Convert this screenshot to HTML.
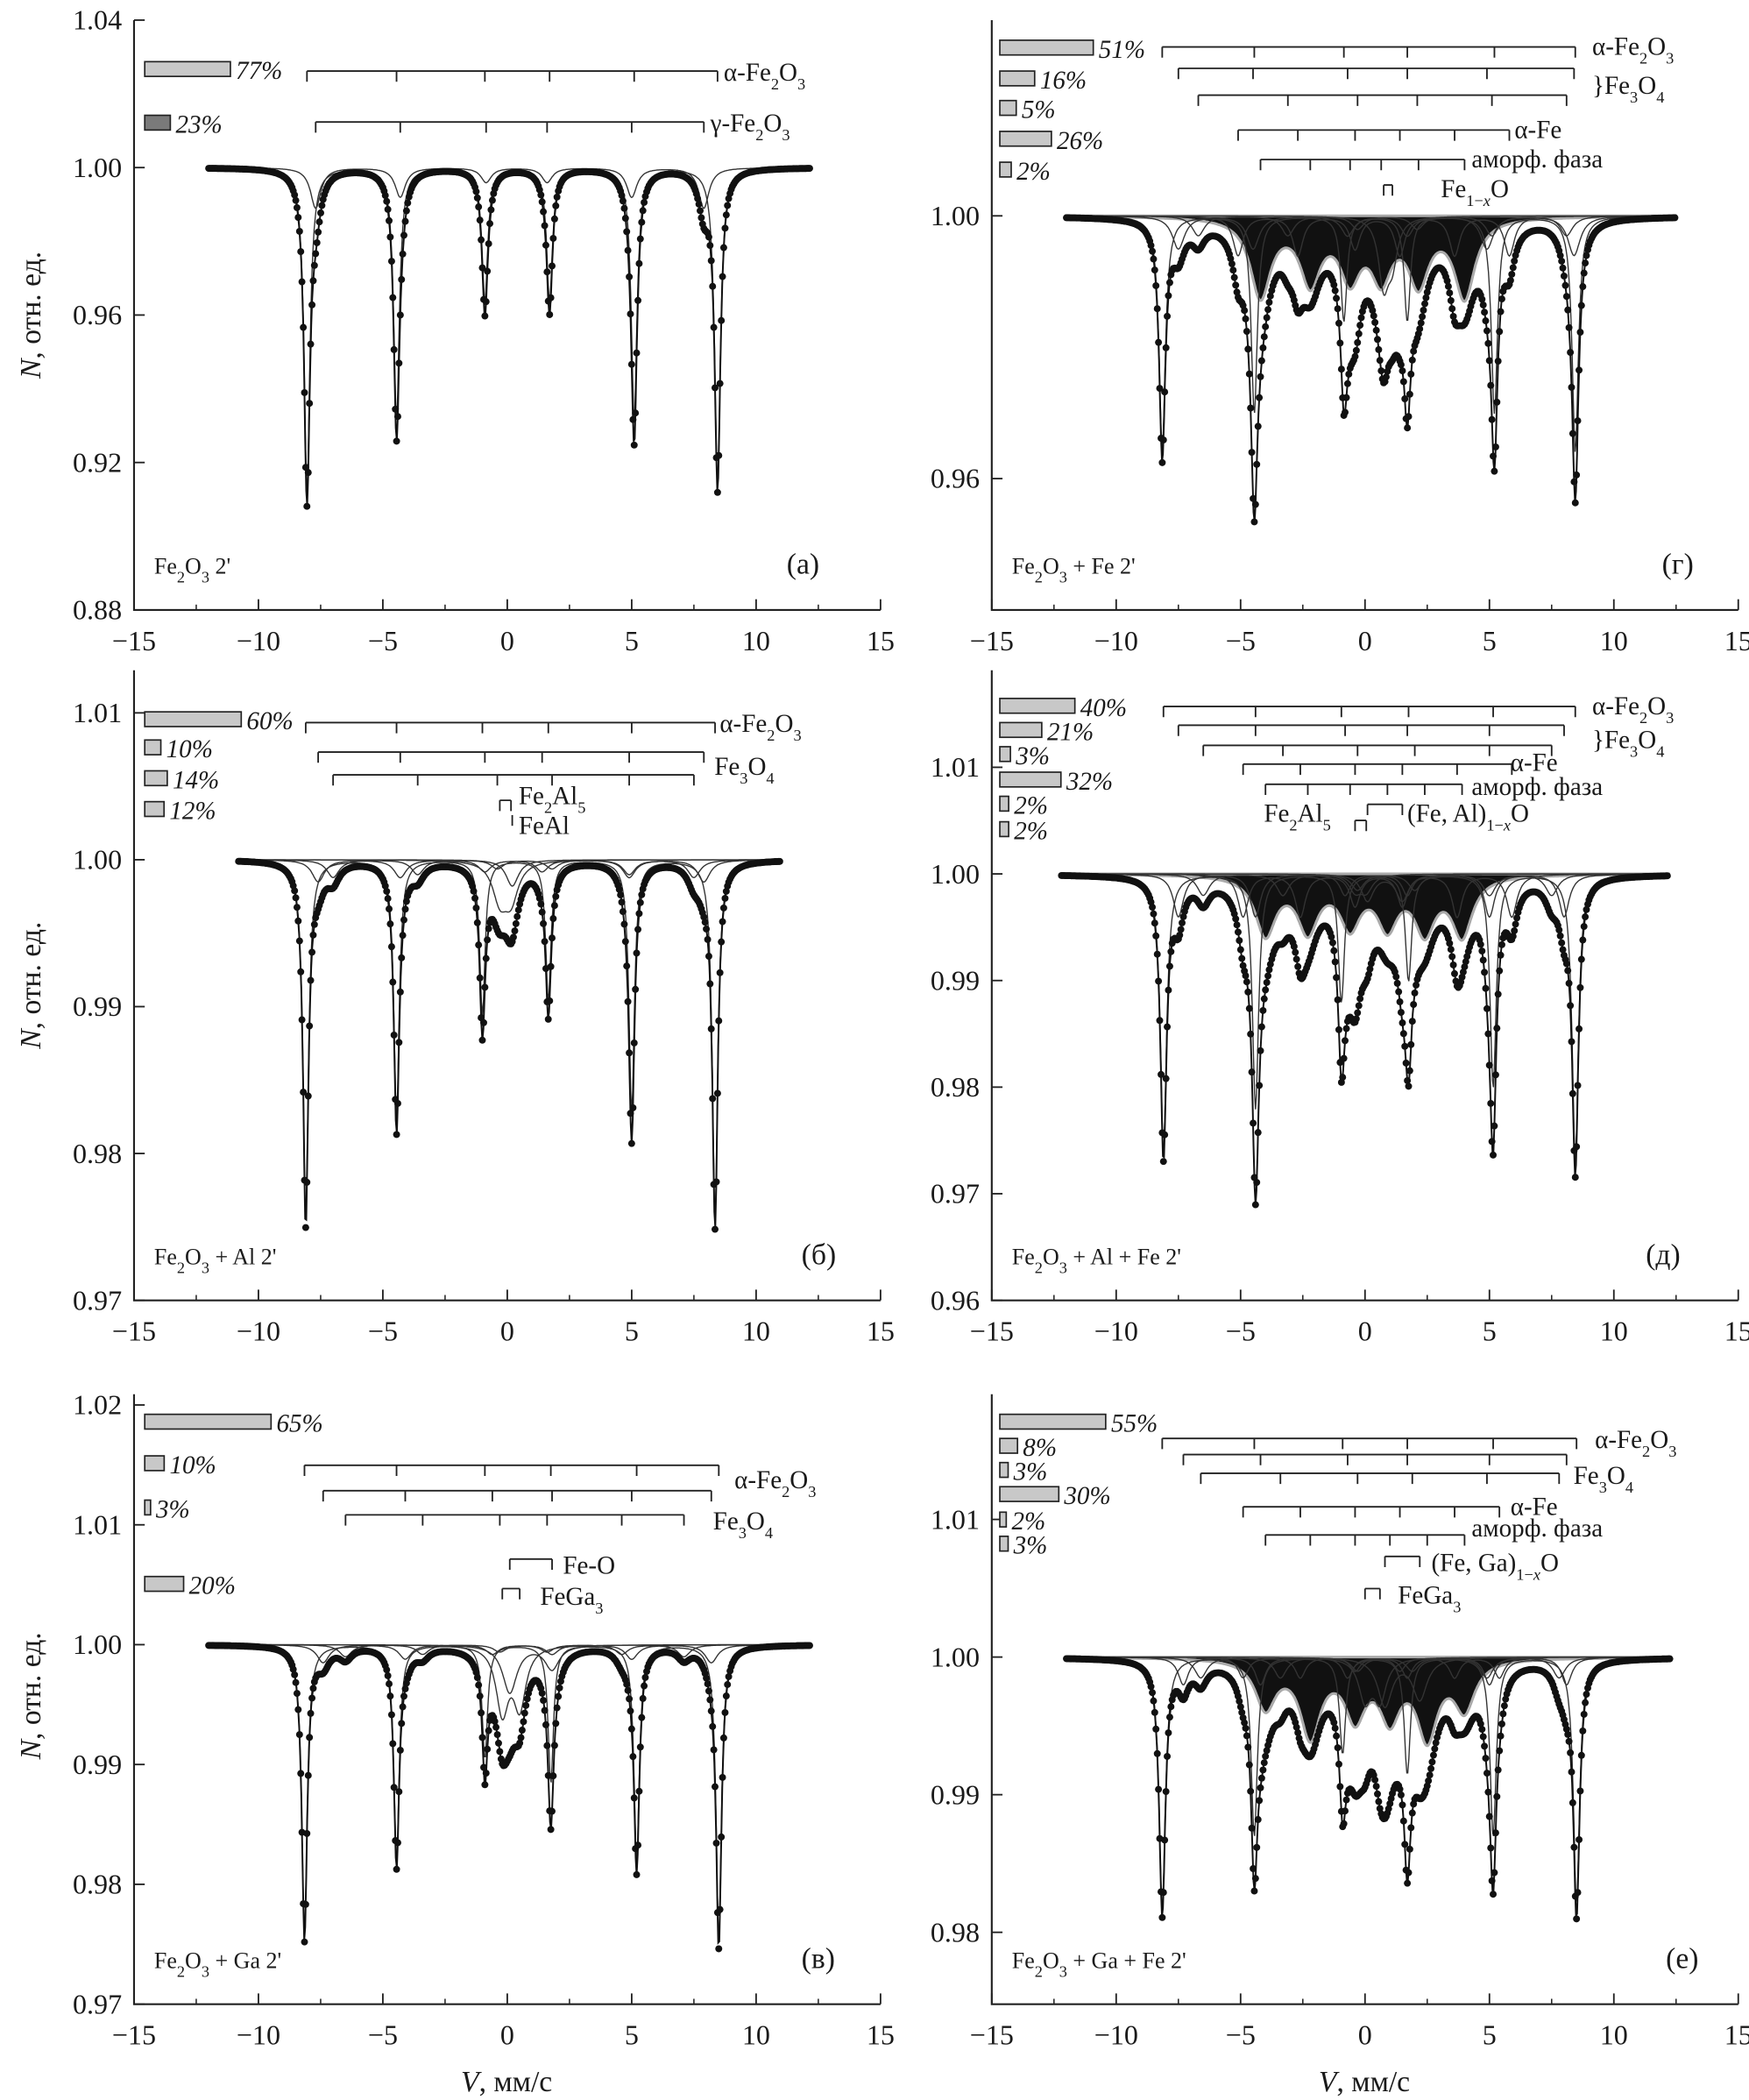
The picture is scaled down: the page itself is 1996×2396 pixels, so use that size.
<!DOCTYPE html>
<html><head><meta charset="utf-8">
<style>
html,body{margin:0;padding:0;background:#fff;}
svg{display:block;}
text{font-family:"Liberation Serif","DejaVu Serif",serif;fill:#1a1a1a;}
</style></head>
<body>
<svg id="fig" width="1996" height="2396" viewBox="0 0 1305 1566.5" preserveAspectRatio="none" font-family="Liberation Serif, DejaVu Serif, serif" xmlns="http://www.w3.org/2000/svg"></svg>
<script>
// ---------- data (mm/s positions, absorption depths) ----------
// (а)
const A_ALPHA_POS=[-8.05,-4.45,-0.9,1.7,5.1,8.45];
const A_ALPHA_D=[0.088,0.068,0.036,0.036,0.068,0.086];
const A_GAMMA_POS=[-7.7,-4.3,-0.85,1.6,5.0,7.9];
const A_GAMMA_D=[0.011,0.008,0.004,0.004,0.008,0.011];
// (б)
const B_ALPHA_POS=[-8.1,-4.45,-1.0,1.65,5.0,8.35];
const B_ALPHA_D=[0.0245,0.0175,0.0105,0.0095,0.0172,0.0245];
const B_M1_POS=[-7.6,-4.3,-0.9,1.4,4.9,7.9];
const B_M1_D=[0.0015,0.0012,0.0008,0.0008,0.0012,0.0015];
const B_M2_POS=[-7.0,-3.6,-0.4,1.8,4.9,7.5];
const B_M2_D=[0.0012,0.001,0.0006,0.0006,0.001,0.0012];
const B_FE2AL5_POS=[-0.3,0.15];
const B_FE2AL5_D=[0.0025,0.0025];
const B_FEAL_POS=[0.2];
const B_FEAL_D=[0.0018];
// (в)
const C_ALPHA_POS=[-8.15,-4.45,-0.9,1.75,5.2,8.5];
const C_ALPHA_D=[0.0245,0.018,0.0095,0.0115,0.018,0.0245];
const C_M1_POS=[-7.4,-4.1,-0.6,1.8,5.0,8.2];
const C_M1_D=[0.0015,0.0012,0.0008,0.0008,0.0012,0.0015];
const C_M2_POS=[-6.5,-3.4,-0.3,1.6,4.6,7.1];
const C_M2_D=[0.001,0.0008,0.0006,0.0006,0.0008,0.001];
const C_FEO_POS=[0.1,1.8];
const C_FEO_D=[0.004,0.002];
const C_FEGA3_POS=[-0.2,0.5];
const C_FEGA3_D=[0.0055,0.005];
// (г)
const G_ALPHA_POS=[-8.15,-4.45,-0.85,1.7,5.2,8.45];
const G_ALPHA_D=[0.036,0.03,0.016,0.016,0.03,0.036];
const G_M1_POS=[-7.5,-4.5,-0.7,1.7,4.9,8.4];
const G_M1_D=[0.005,0.005,0.003,0.003,0.005,0.006];
const G_M2_POS=[-6.7,-3.1,-0.3,2.1,5.1,8.1];
const G_M2_D=[0.003,0.003,0.002,0.002,0.003,0.003];
const G_FE_POS=[-5.1,-2.7,-0.4,1.4,3.6,5.8];
const G_FE_D=[0.006,0.006,0.005,0.006,0.006,0.006];
const G_AM_POS=[-4.2,-2.2,-0.6,0.65,2.15,4.0];
const G_AM_D=[0.012,0.0095,0.0085,0.0085,0.0095,0.012];
const G_WUS_POS=[0.75,1.1];
const G_WUS_D=[0.01,0.006];
// (д)
const D_ALPHA_POS=[-8.1,-4.4,-0.95,1.75,5.15,8.45];
const D_ALPHA_D=[0.026,0.022,0.012,0.010,0.020,0.027];
const D_M1_POS=[-7.5,-4.4,-0.8,1.7,5.0,8.0];
const D_M1_D=[0.004,0.004,0.002,0.002,0.004,0.004];
const D_M2_POS=[-6.5,-3.3,-0.3,2.0,5.0,7.5];
const D_M2_D=[0.002,0.002,0.0015,0.0015,0.002,0.002];
const D_FE_POS=[-4.9,-2.6,-0.4,1.5,3.7,5.9];
const D_FE_D=[0.004,0.004,0.003,0.003,0.004,0.004];
const D_AM_POS=[-4.0,-2.3,-0.6,0.9,2.4,3.9];
const D_AM_D=[0.0055,0.005,0.0045,0.0045,0.005,0.0055];
const D_WUS_POS=[0.1,1.5];
const D_WUS_D=[0.0025,0.0025];
const D_FE2AL5_POS=[-0.4,0.05];
const D_FE2AL5_D=[0.0015,0.0015];
// (е)
const E_ALPHA_POS=[-8.15,-4.45,-0.9,1.7,5.15,8.5];
const E_ALPHA_D=[0.0185,0.013,0.007,0.0085,0.013,0.018];
const E_M1_POS=[-7.3,-4.2,-0.7,1.7,5.0,8.1];
const E_M1_D=[0.002,0.002,0.0015,0.0015,0.002,0.002];
const E_M2_POS=[-6.6,-3.4,-0.3,1.9,4.9,7.8];
const E_M2_D=[0.0015,0.0015,0.001,0.001,0.0015,0.0015];
const E_FE_POS=[-4.9,-2.6,-0.4,1.4,3.6,5.4];
const E_FE_D=[0.0015,0.0015,0.001,0.001,0.0015,0.0015];
const E_AM_POS=[-4.0,-2.2,-0.4,1.0,2.5,4.0];
const E_AM_D=[0.0035,0.0055,0.004,0.004,0.0055,0.0035];
const E_WUS_POS=[0.8,2.2];
const E_WUS_D=[0.0035,0.003];
const E_FEGA3_POS=[0.0,0.6];
const E_FEGA3_D=[0.003,0.003];

// phase-content percentages per panel
const A_PCT=[77,23];
const B_PCT=[60,10,14,12];
const C_PCT=[65,10,3,20];
const G_PCT=[51,16,5,26,2];
const D_PCT=[40,21,3,32,2,2];
const E_PCT=[55,8,3,30,2,3];

const X_TICKS=[-15,-10,-5,0,5,10,15];

// ---------- layout ----------
const SUB=(s)=>`<tspan baseline-shift="sub" font-size="12">${s}</tspan>`;
const FE2O3='Fe'+SUB('2')+'O'+SUB('3');
const FE3O4='Fe'+SUB('3')+'O'+SUB('4');
const panels=[
 {key:'a',L:100,R:657,T:15,B:455,yMin:0.88,yMax:1.04,yTicks:[0.88,0.92,0.96,1.00,1.04],vr:[-12,12.2],
  sample:FE2O3+' 2\'',tag:'(а)',tagX:587,
  comps:[{pos:A_ALPHA_POS,d:A_ALPHA_D,w:0.14,sy:53,lab:'α-'+FE2O3,lx:540,ly:60},
         {pos:A_GAMMA_POS,d:A_GAMMA_D,w:0.25,sy:91,lab:'γ-'+FE2O3,lx:530,ly:98}],
  bars:{pct:A_PCT,ys:[52,92],k:0.83,c:0,x0:108,fills:['#c8c8c8','#7a7a7a']},labels:[]},
 {key:'b',L:100,R:657,T:500,B:970,yMin:0.97,yMax:1.0129,yTicks:[0.97,0.98,0.99,1.00,1.01],vr:[-10.8,11],
  sample:FE2O3+' + Al 2\'',tag:'(б)',tagX:598,
  comps:[{pos:B_ALPHA_POS,d:B_ALPHA_D,w:0.13,sy:539,lab:'α-'+FE2O3,lx:537,ly:546},
         {pos:B_M1_POS,d:B_M1_D,w:0.3,sy:561},
         {pos:B_M2_POS,d:B_M2_D,w:0.3,sy:578,lab:FE3O4,lx:533,ly:578},
         {pos:B_FE2AL5_POS,d:B_FE2AL5_D,w:0.35,sy:597,lab:'Fe'+SUB('2')+'Al'+SUB('5'),lx:387,ly:600},
         {pos:B_FEAL_POS,d:B_FEAL_D,w:0.3,sy:608,lab:'FeAl',lx:387,ly:622}],
  bars:{pct:B_PCT,ys:[537,558,581,604],k:1.2,c:0,x0:108},labels:[]},
 {key:'c',L:100,R:657,T:1040,B:1495,yMin:0.97,yMax:1.0209,yTicks:[0.97,0.98,0.99,1.00,1.01,1.02],vr:[-12,12.2],
  sample:FE2O3+' + Ga 2\'',tag:'(в)',tagX:598,
  comps:[{pos:C_ALPHA_POS,d:C_ALPHA_D,w:0.13,sy:1093,lab:'α-'+FE2O3,lx:548,ly:1110},
         {pos:C_M1_POS,d:C_M1_D,w:0.3,sy:1112},
         {pos:C_M2_POS,d:C_M2_D,w:0.3,sy:1130,lab:FE3O4,lx:532,ly:1141},
         {pos:C_FEO_POS,d:C_FEO_D,w:0.35,sy:1163,lab:'Fe-O',lx:420,ly:1174},
         {pos:C_FEGA3_POS,d:C_FEGA3_D,w:0.3,sy:1185,lab:'FeGa'+SUB('3'),lx:403,ly:1197}],
  bars:{pct:C_PCT,ys:[1061,1092,1125,1182],k:1.45,c:0,x0:108},labels:[]},
 {key:'g',L:740,R:1297,T:15,B:455,yMin:0.94,yMax:1.0298,yTicks:[0.96,1.00],vr:[-12,12.5],
  sample:FE2O3+' + Fe 2\'',tag:'(г)',tagX:1240,
  comps:[{pos:G_ALPHA_POS,d:G_ALPHA_D,w:0.15,sy:35,lab:'α-'+FE2O3,lx:1188,ly:41},
         {pos:G_M1_POS,d:G_M1_D,w:0.3,sy:51},
         {pos:G_M2_POS,d:G_M2_D,w:0.3,sy:71},
         {pos:G_FE_POS,d:G_FE_D,w:0.25,sy:97,lab:'α-Fe',lx:1130,ly:103},
         {pos:G_AM_POS,d:G_AM_D,w:0.5,sy:119,fill:true,lab:'аморф. фаза',lx:1098,ly:125},
         {pos:G_WUS_POS,d:G_WUS_D,w:0.25,sy:138,lab:'Fe'+SUB('1−<tspan font-style="italic">x</tspan>')+'O',lx:1075,ly:147}],
  bars:{pct:G_PCT,ys:[36,59,81,104,127],k:1.25,c:6,x0:746},
  labels:[{t:'}'+FE3O4,x:1188,y:70}]},
 {key:'d',L:740,R:1297,T:500,B:970,yMin:0.96,yMax:1.0191,yTicks:[0.96,0.97,0.98,0.99,1.00,1.01],vr:[-12.2,12.2],
  sample:FE2O3+' + Al + Fe 2\'',tag:'(д)',tagX:1228,
  comps:[{pos:D_ALPHA_POS,d:D_ALPHA_D,w:0.15,sy:527,lab:'α-'+FE2O3,lx:1188,ly:533},
         {pos:D_M1_POS,d:D_M1_D,w:0.25,sy:541},
         {pos:D_M2_POS,d:D_M2_D,w:0.3,sy:556},
         {pos:D_FE_POS,d:D_FE_D,w:0.25,sy:570,lab:'α-Fe',lx:1127,ly:575},
         {pos:D_AM_POS,d:D_AM_D,w:0.5,sy:585,fill:true,lab:'аморф. фаза',lx:1098,ly:593},
         {pos:D_WUS_POS,d:D_WUS_D,w:0.3,sy:600,lab:'(Fe, Al)'+SUB('1−<tspan font-style="italic">x</tspan>')+'O',lx:1050,ly:613},
         {pos:D_FE2AL5_POS,d:D_FE2AL5_D,w:0.3,sy:612,lab:'Fe'+SUB('2')+'Al'+SUB('5'),lx:943,ly:613}],
  bars:{pct:D_PCT,ys:[527,545,563,582,600,619],k:1.3,c:4,x0:746},
  labels:[{t:'}'+FE3O4,x:1188,y:558}]},
 {key:'e',L:740,R:1297,T:1040,B:1495,yMin:0.97478,yMax:1.0191,yTicks:[0.98,0.99,1.00,1.01],vr:[-12,12.3],
  sample:FE2O3+' + Ga + Fe 2\'',tag:'(е)',tagX:1243,
  comps:[{pos:E_ALPHA_POS,d:E_ALPHA_D,w:0.15,sy:1073,lab:'α-'+FE2O3,lx:1190,ly:1080},
         {pos:E_M1_POS,d:E_M1_D,w:0.25,sy:1085},
         {pos:E_M2_POS,d:E_M2_D,w:0.3,sy:1099,lab:FE3O4,lx:1174,ly:1107},
         {pos:E_FE_POS,d:E_FE_D,w:0.25,sy:1124,lab:'α-Fe',lx:1127,ly:1130},
         {pos:E_AM_POS,d:E_AM_D,w:0.5,sy:1145,fill:true,lab:'аморф. фаза',lx:1098,ly:1146},
         {pos:E_WUS_POS,d:E_WUS_D,w:0.35,sy:1161,lab:'(Fe, Ga)'+SUB('1−<tspan font-style="italic">x</tspan>')+'O',lx:1068,ly:1172},
         {pos:E_FEGA3_POS,d:E_FEGA3_D,w:0.3,sy:1185,lab:'FeGa'+SUB('3'),lx:1043,ly:1196}],
  bars:{pct:E_PCT,ys:[1061,1079,1097,1115,1134,1152],k:1.4,c:2,x0:746},labels:[]}
];

const NS='http://www.w3.org/2000/svg';
const svg=document.getElementById('fig');
function mk(tag,attrs,parent){const e=document.createElementNS(NS,tag);for(const k in attrs)e.setAttribute(k,attrs[k]);(parent||svg).appendChild(e);return e;}
function lor(v,c){let s=0;for(let i=0;i<c.pos.length;i++){const t=(v-c.pos[i])/c.w;s+=c.d[i]/(1+t*t);}return s;}

panels.forEach(p=>{
  const g=mk('g',{});
  
  
  const X=v=>p.L+(v+15)/30*(p.R-p.L);
  const Y=n=>p.B-(n-p.yMin)/(p.yMax-p.yMin)*(p.B-p.T);
  const ax=mk('path',{d:`M${p.L},${p.T}V${p.B}H${p.R}`,fill:'none',stroke:'#222','stroke-width':1.4},g);
  
  
  X_TICKS.forEach((t,i)=>{
    const tk=mk('line',{x1:X(t),x2:X(t),y1:p.B,y2:p.B-8,stroke:'#222','stroke-width':1.2},g);
    
    
    if(i<X_TICKS.length-1){mk('line',{x1:X(t+2.5),x2:X(t+2.5),y1:p.B,y2:p.B-4,stroke:'#222','stroke-width':1},g);}
    const tl=mk('text',{x:X(t),y:p.B+30,'text-anchor':'middle','font-size':21},g);
    tl.textContent=(t<0?'−'+(-t):''+t);
    
    
  });
  p.yTicks.forEach(t=>{
    const tk=mk('line',{x1:p.L,x2:p.L+8,y1:Y(t),y2:Y(t),stroke:'#222','stroke-width':1.2},g);
    
    
    const tl=mk('text',{x:p.L-9,y:Y(t)+7,'text-anchor':'end','font-size':21},g);
    tl.textContent=t.toFixed(2);
    
    
  });
  const step=0.04;const vs=[];for(let v=p.vr[0];v<=p.vr[1]+1e-9;v+=step)vs.push(v);
  p.comps.forEach(c=>{
    if(c.fill){
      let d=`M${X(vs[0])},${Y(1)}`;vs.forEach(v=>{d+=`L${X(v).toFixed(1)},${Y(1-lor(v,c)).toFixed(1)}`;});d+=`L${X(vs[vs.length-1])},${Y(1)}Z`;
      const f=mk('path',{d:d,fill:'#111',stroke:'#aaa','stroke-width':2},g);
      
      
    }
  });
  p.comps.forEach(c=>{
    if(c.fill)return;
    let d='';vs.forEach((v,i)=>{d+=(i?'L':'M')+X(v).toFixed(1)+','+Y(1-lor(v,c)).toFixed(1);});
    const cl=mk('path',{d:d,fill:'none',stroke:'#333','stroke-width':0.9},g);
    
    
  });
  const tot=v=>1-p.comps.reduce((s,c)=>s+lor(v,c),0);
  let d='';vs.forEach((v,i)=>{d+=(i?'L':'M')+X(v).toFixed(1)+','+Y(tot(v)).toFixed(1);});
  const tl=mk('path',{d:d,fill:'none',stroke:'#111','stroke-width':1.3},g);
  
  
  const dots=mk('g',{fill:'#111'},g);
  
  
  for(let v=p.vr[0];v<=p.vr[1];v+=0.05){mk('circle',{cx:X(v).toFixed(1),cy:Y(tot(v)).toFixed(1),r:2.6},dots);}
  p.comps.forEach(c=>{
    const x0=X(c.pos[0]),x1=X(c.pos[c.pos.length-1]);
    let sd=`M${x0},${c.sy}H${x1}`;c.pos.forEach(q=>{sd+=`M${X(q)},${c.sy}v8`;});
    const s=mk('path',{d:sd,fill:'none',stroke:'#222','stroke-width':1.2},g);
    
    
    if(c.lab){const t=mk('text',{x:c.lx,y:c.ly,'font-size':19},g);t.innerHTML=c.lab;
      
      }
  });
  p.labels.forEach(l=>{const t=mk('text',{x:l.x,y:l.y,'font-size':19},g);t.innerHTML=l.t;
    
    });
  const b=p.bars;
  b.pct.forEach((q,i)=>{
    const len=b.k*q+b.c;
    const r=mk('rect',{x:b.x0,y:b.ys[i]-6,width:len,height:11,fill:(b.fills?b.fills[i]:'#c8c8c8'),stroke:'#222','stroke-width':1.1},g);
    
    
    const t=mk('text',{x:b.x0+len+4,y:b.ys[i]+7,'font-size':19,'font-style':'italic'},g);
    t.textContent=q+'%';
    
    
  });
  const s=mk('text',{x:p.L+15,y:p.B-27,'font-size':17},g);s.innerHTML=p.sample;
  
  
  const tg=mk('text',{x:p.tagX,y:p.B-27,'font-size':22},g);tg.textContent=p.tag;
  
  
});
[[235],[735],[1265]].forEach(([cy])=>{
  const t=mk('text',{x:0,y:0,'font-size':22,'text-anchor':'middle',transform:`translate(30,${cy}) rotate(-90)`});
  t.innerHTML='<tspan font-style="italic">N</tspan>, отн. ед.';
  
  
});
[378,1018].forEach(cx=>{
  const t=mk('text',{x:cx,y:1560,'font-size':22,'text-anchor':'middle'});
  t.innerHTML='<tspan font-style="italic">V</tspan>, мм/с';
  
  
});
</script>
</body></html>
